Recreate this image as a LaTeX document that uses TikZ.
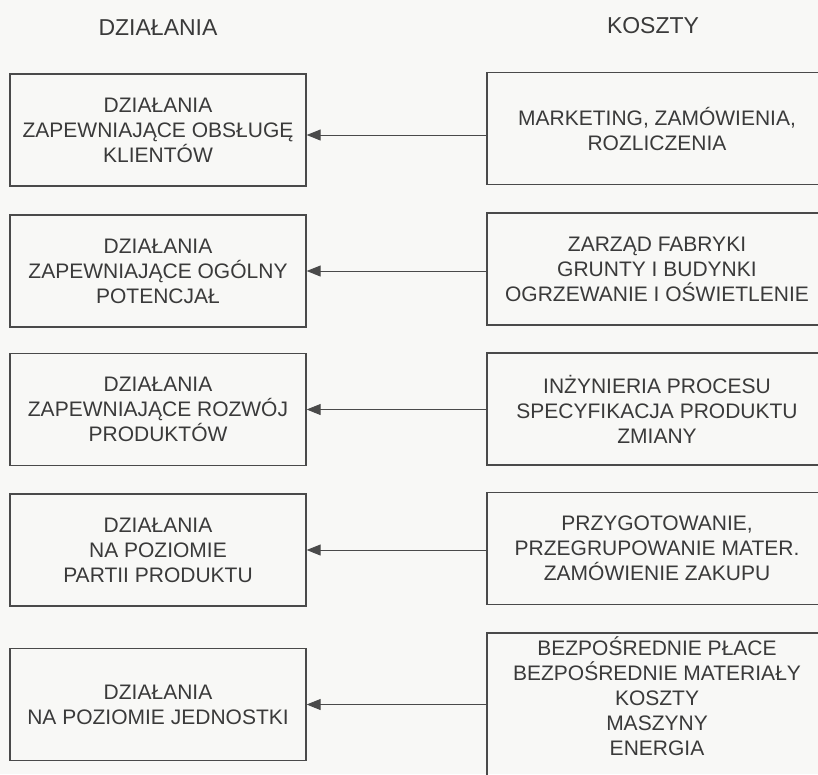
\documentclass[tikz,border=0pt]{standalone}
\usepackage{fontspec}
\setmainfont{Liberation Sans}
\usetikzlibrary{arrows.meta}
\definecolor{ink}{HTML}{3A3A3A}
\definecolor{edge}{HTML}{4A4A4A}
\definecolor{paper}{HTML}{F8F8F6}
\tikzset{
  box/.style={draw=edge, line width=1.3pt, align=center, text=ink,
    font=\fontsize{21}{25}\selectfont, inner sep=0pt},
  lbox/.style={box, minimum width=296pt, minimum height=112pt},
  rbox/.style={box, minimum width=340pt, minimum height=112pt},
  head/.style={text=ink, font=\fontsize{23}{25}\selectfont, inner sep=0pt},
  arr/.style={draw=edge, line width=0.9pt, -{Triangle[length=14pt,width=11pt]}}
}
\begin{document}
\begin{tikzpicture}[x=1pt,y=-1pt]
\useasboundingbox (0,0) rectangle (818,774);
\fill[paper] (0,0) rectangle (818,774);
\begin{scope}
\clip (0,0) rectangle (818,774);
\node[head] (hl) at (158,28) {DZIAŁANIA};
\node[head] (hr) at (653,26) {KOSZTY};

\node[lbox] (l1) at (158,130) {DZIAŁANIA\\ZAPEWNIAJĄCE OBSŁUGĘ\\KLIENTÓW};
\node[lbox] (l2) at (158,271) {DZIAŁANIA\\ZAPEWNIAJĄCE OGÓLNY\\POTENCJAŁ};
\node[lbox] (l3) at (158,409.5) {DZIAŁANIA\\ZAPEWNIAJĄCE ROZWÓJ\\PRODUKTÓW};
\node[lbox] (l4) at (158,550) {DZIAŁANIA\\NA POZIOMIE\\PARTII PRODUKTU};
\node[lbox] (l5) at (158,704.5) {DZIAŁANIA\\NA POZIOMIE JEDNOSTKI};

\node[rbox] (r1) at (657,128.5) {MARKETING, ZAMÓWIENIA,\\ROZLICZENIA};
\node[rbox] (r2) at (657,269) {ZARZĄD FABRYKI\\GRUNTY I BUDYNKI\\OGRZEWANIE I OŚWIETLENIE};
\node[rbox] (r3) at (657,409) {INŻYNIERIA PROCESU\\SPECYFIKACJA PRODUKTU\\ZMIANY};
\node[rbox] (r4) at (657,548.5) {PRZYGOTOWANIE,\\PRZEGRUPOWANIE MATER.\\ZAMÓWIENIE ZAKUPU};
\node[rbox, minimum height=146pt, text depth=20pt] (r5) at (657,706) {BEZPOŚREDNIE PŁACE\\BEZPOŚREDNIE MATERIAŁY\\KOSZTY\\MASZYNY\\ENERGIA};

\draw[arr] ([yshift=-5pt]r1.west |- l1.east) -- ([yshift=-5pt]l1.east);
\draw[arr] (r2.west |- l2.east) -- (l2.east);
\draw[arr] (r3.west |- l3.east) -- (l3.east);
\draw[arr] (r4.west |- l4.east) -- (l4.east);
\draw[arr] (r5.west |- l5.east) -- (l5.east);
\end{scope}
\end{tikzpicture}
\end{document}
